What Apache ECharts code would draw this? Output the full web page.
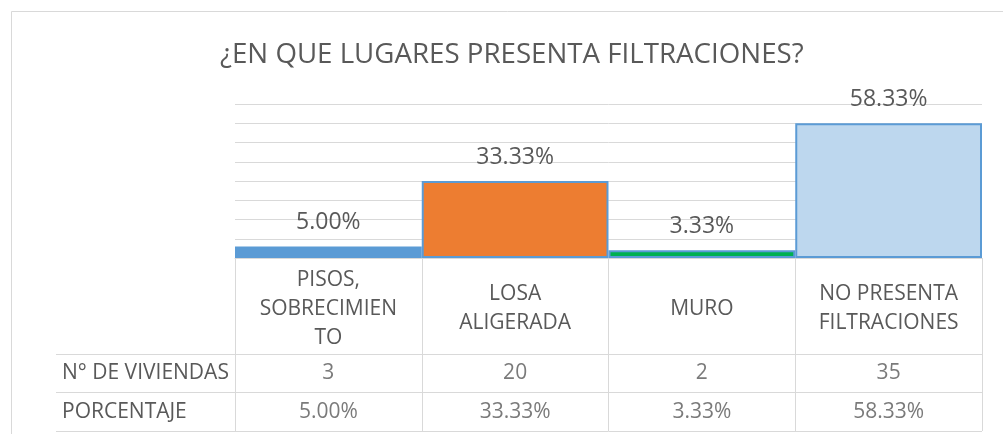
<!DOCTYPE html>
<html>
<head>
<meta charset="utf-8">
<script src="https://cdn.jsdelivr.net/npm/echarts@6/dist/echarts.min.js"></script>
<style>
  html, body { margin: 0; padding: 0; background: #fff; }
  #chart { width: 1003px; height: 434px; }
</style>
</head>
<body>
<div id="chart"></div>
<script>
// data
var titleText = '¿EN QUE LUGARES PRESENTA FILTRACIONES?'
var categories = ['PISOS,\nSOBRECIMIEN\nTO', 'LOSA\nALIGERADA', 'MURO', 'NO PRESENTA\nFILTRACIONES']
var viviendas = [3, 20, 2, 35]
var porcentajes = ['5.00%', '33.33%', '3.33%', '58.33%']
var rowNames = ['N° DE VIVIENDAS', 'PORCENTAJE']

var barColors = ['#5B9BD5', '#ED7D31', '#00B050', '#BDD7EE']
var FONT = '"Open Sans", "Noto Sans", sans-serif'
var TEXT = '#595959'
var LINE = '#D9D9D9'

var chart = echarts.init(document.getElementById('chart'))

// table cells: [column, row, text]
var cells = []
viviendas.forEach(function (v, i) { cells.push([i, 0, String(v)]) })
porcentajes.forEach(function (p, i) { cells.push([i, 1, p]) })

var option = {
  backgroundColor: '#fff',
  animation: false,
  textStyle: { fontFamily: FONT },
  title: {
    text: titleText,
    left: 215,
    top: 36,
    textStyle: { fontFamily: FONT, fontSize: 27.7, fontWeight: 'normal', color: TEXT }
  },
  graphic: [{
    // chart frame
    type: 'rect',
    shape: { x: 11.5, y: 11.5, width: 1010, height: 440 },
    style: { fill: 'none', stroke: LINE, lineWidth: 1 },
    silent: true
  }],
  grid: [
    { left: 235, right: 21, top: 104, height: 154 },
    { left: 235, right: 21, top: 354, height: 77 }
  ],
  xAxis: [{
    type: 'category',
    gridIndex: 0,
    data: categories,
    axisLine: { lineStyle: { color: LINE, width: 1 } },
    axisTick: { show: true, length: 173, interval: 0, lineStyle: { color: LINE, width: 1 } },
    axisLabel: {
      interval: 0,
      margin: 51,
      verticalAlign: 'middle',
      lineHeight: 29,
      fontSize: 21,
      color: TEXT,
      fontFamily: FONT
    }
  }, {
    type: 'category',
    gridIndex: 1,
    data: categories,
    show: false
  }],
  yAxis: [{
    type: 'value',
    gridIndex: 0,
    min: 0,
    max: 40,
    interval: 5,
    axisLabel: { show: false },
    axisLine: { show: false },
    axisTick: { show: false },
    splitLine: { lineStyle: { color: LINE, width: 1 } }
  }, {
    type: 'category',
    gridIndex: 1,
    data: rowNames,
    inverse: true,
    axisLine: { show: true, lineStyle: { color: LINE } },
    axisTick: { show: true, length: 179, lineStyle: { color: LINE } },
    splitLine: { show: true, lineStyle: { color: LINE } },
    axisLabel: { align: 'left', margin: 173, fontSize: 21, color: TEXT, fontFamily: FONT }
  }, {
    // left edge of the row-name column
    type: 'category',
    gridIndex: 1,
    data: rowNames,
    offset: 179,
    axisLine: { show: true, lineStyle: { color: LINE } },
    axisTick: { show: false },
    axisLabel: { show: false }
  }],
  series: [{
    type: 'bar',
    xAxisIndex: 0,
    yAxisIndex: 0,
    barCategoryGap: '0%',
    data: viviendas.map(function (v, i) {
      return { value: v, itemStyle: { color: barColors[i] } }
    }),
    itemStyle: { borderColor: '#5B9BD5', borderWidth: 2 },
    label: {
      show: true,
      position: 'top',
      distance: 12,
      fontSize: 23,
      color: TEXT,
      fontFamily: FONT,
      formatter: function (p) { return porcentajes[p.dataIndex] }
    }
  }, {
    type: 'scatter',
    xAxisIndex: 1,
    yAxisIndex: 1,
    symbolSize: 0,
    data: cells,
    label: {
      show: true,
      position: 'inside',
      fontSize: 21,
      color: TEXT,
      fontFamily: FONT,
      formatter: function (p) { return p.value[2] }
    }
  }]
}

chart.setOption(option)
</script>
</body>
</html>
